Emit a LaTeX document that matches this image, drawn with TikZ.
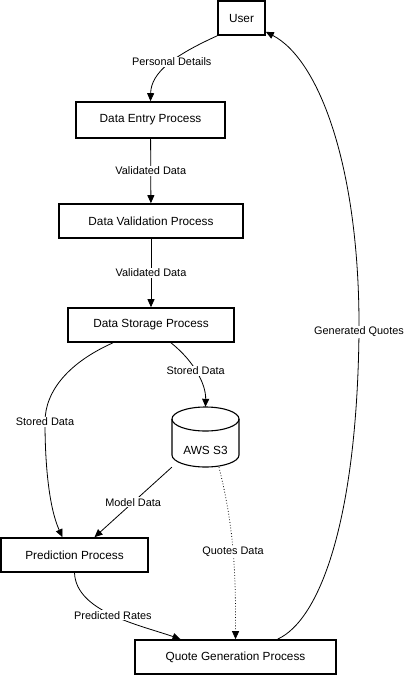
\documentclass[tikz,border=0pt]{standalone}
\usepackage{fontspec}
\setmainfont{Liberation Sans}
\usetikzlibrary{arrows.meta}
\begin{document}
\begin{tikzpicture}[x=1pt,y=-1pt,
  proc/.style={draw,line width=1.6pt,minimum height=34pt,inner sep=0pt,font=\fontsize{11.8}{13}\selectfont},
  txt/.style={inner sep=0pt,font=\fontsize{11.8}{13}\selectfont},
  dbline/.style={line width=1.1pt},
  flow/.style={line width=0.8pt,-{Triangle[width=7pt,length=8pt]}},
  lbl/.style={fill=white,inner sep=1pt,font=\fontsize{10.9}{12}\selectfont}]
\useasboundingbox (0,0) rectangle (405,675);
\node[proc,minimum width=47pt] (user) at (241.5,18) {User};
\node[proc,minimum width=149pt,minimum height=36pt] (entry) at (150.5,120) {Data Entry Process};
\node[proc,minimum width=184pt] (valid) at (151,221) {Data Validation Process};
\node[proc,minimum width=166pt] (store) at (151,325) {Data Storage Process};
\node[minimum width=67pt,minimum height=60pt,inner sep=0pt] (s3) at (205.5,437) {};
\draw[dbline] (172,419) -- (172,455) arc[start angle=180,end angle=360,x radius=33.5pt,y radius=12pt] -- (239,419);
\draw[dbline] (205.5,419) ellipse[x radius=33.5pt,y radius=12pt];
\node[txt] (s3t) at (205.5,450) {AWS S3};
\node[proc,minimum width=147pt] (pred) at (74.5,555) {Prediction Process};
\node[proc,minimum width=201pt] (quote) at (235.5,657) {Quote Generation Process};
\coordinate (gq) at (359,332);
\coordinate (sd) at (45,422);
\draw[flow] (user.south west) .. controls (175,55) and (151,72) .. node[lbl,pos=0.45]{Personal Details} (entry.north);
\draw[flow] (entry) -- node[lbl]{Validated Data} (valid);
\draw[flow] (valid) -- node[lbl]{Validated Data} (store);
\draw[flow] ([xshift=20pt]store.south) .. controls (195,362) and (206,385) .. node[lbl,pos=0.45]{Stored Data} (s3.north);
\draw[flow] ([xshift=-38pt]store.south) .. controls (70,362) and (45,390) .. (sd) node[lbl]{Stored Data} .. controls (45,470) and (50,510) .. ([xshift=-12pt]pred.north);
\draw[flow] (s3.south west) -- node[lbl]{Model Data} ([xshift=20pt]pred.north);
\draw[flow,dotted] ([xshift=13.5pt]s3.south) .. controls (232,520) and (236,560) .. node[lbl,pos=0.55]{Quotes Data} (quote.north);
\draw[flow] (pred.south) .. controls (76,612) and (140,625) .. node[lbl,pos=0.5]{Predicted Rates} ([xshift=-55pt]quote.north);
\draw[flow] ([xshift=42pt]quote.north) .. controls (320,620) and (357,520) .. (gq) node[lbl]{Generated Quotes} .. controls (360,170) and (320,60) .. ([yshift=4pt]user.south east);
\end{tikzpicture}
\end{document}
